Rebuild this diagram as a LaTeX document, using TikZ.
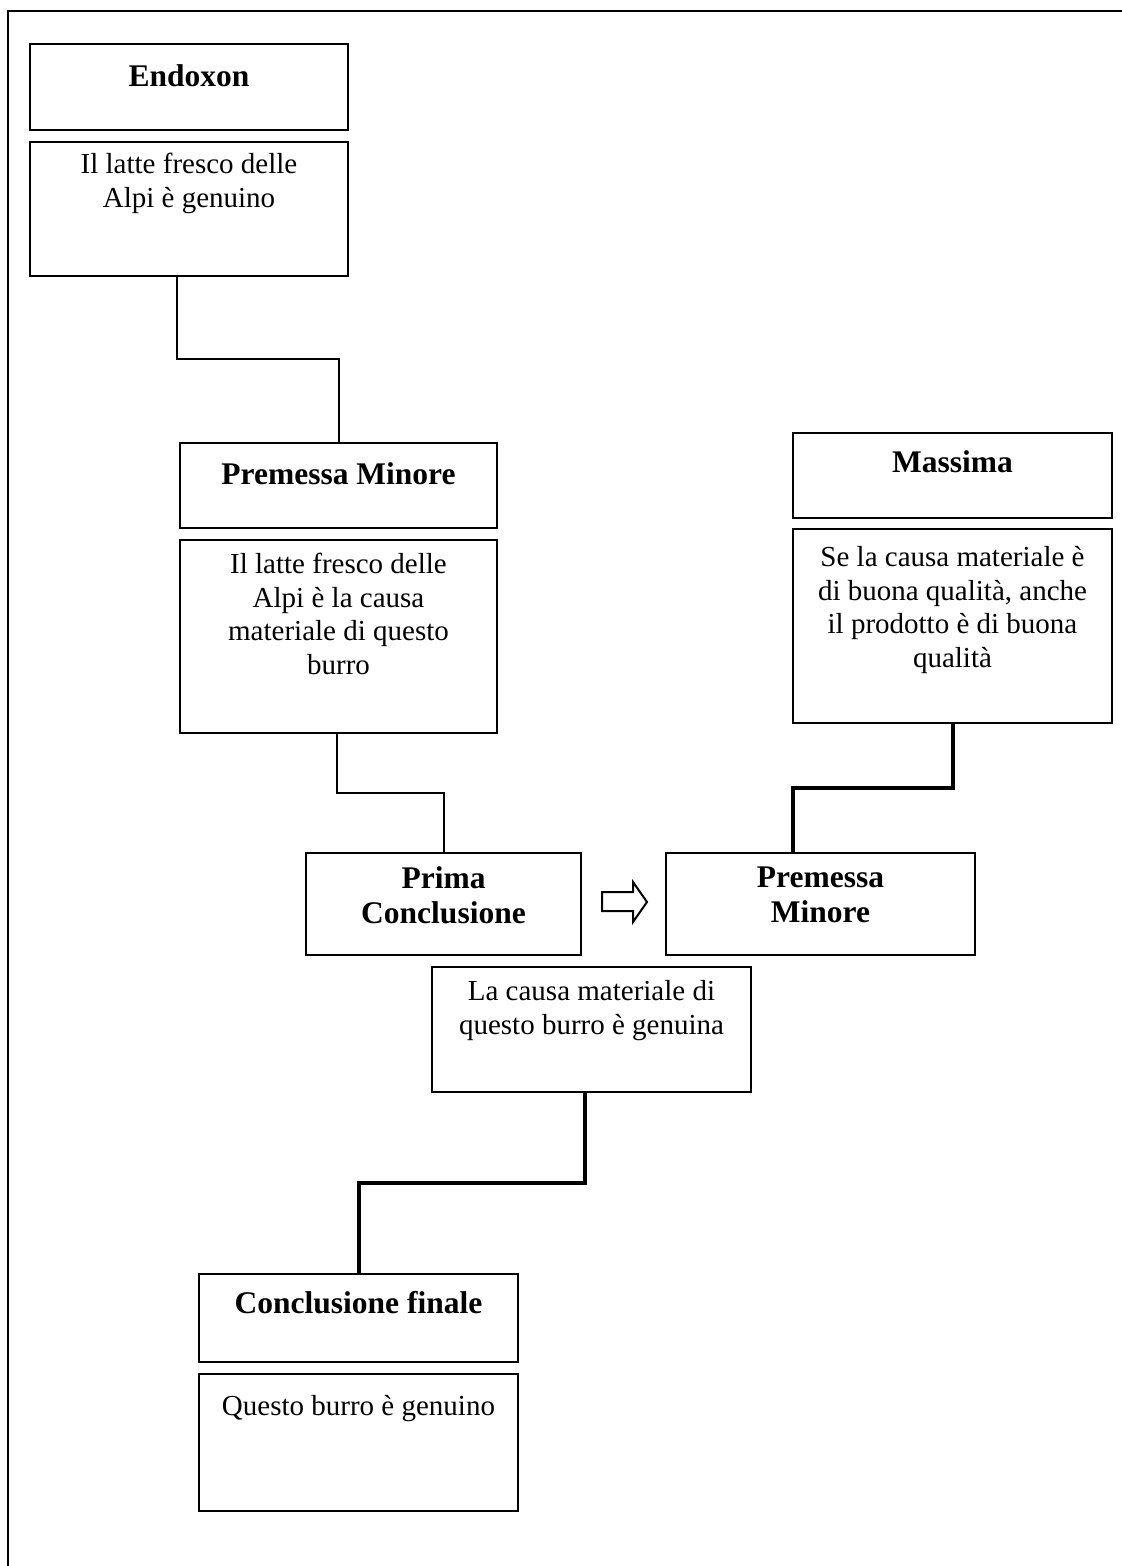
\documentclass[tikz,border=0pt]{standalone}
\usepackage{fontspec}
\setmainfont{Liberation Serif}
\usetikzlibrary{fit,calc}
\begin{document}
\begin{tikzpicture}[x=0.5pt,y=-0.5pt,
  box/.style={draw, line width=1pt, inner sep=0pt},
  % the text node's top sits 13pt above the first baseline
  txt/.style={anchor=north, align=center, inner sep=0pt,
    font=\fontsize{14.5pt}{16.75pt}\selectfont,
    execute at begin node={\rule{0pt}{13pt}}},
  head/.style={txt, font=\fontsize{15.75pt}{17.75pt}\selectfont\bfseries},
  link/.style={line width=1pt},
  boldlink/.style={line width=2pt},
  outline/.style={line width=1pt, line join=miter}]
\useasboundingbox (0,0) rectangle (1122,1566);
\newcommand\mybox[5]{\node[box, fit={(#2,#3) (#4,#5)}] (#1) {};}
% first baseline #2 px below the top of box #1
\newcommand\inbox[2]{($(#1.north)+(0,#2-26)$)}

% page frame (top and left edges)
\draw[link] (1122,11) -- (8,11) -- (8,1566);

% Endoxon
\mybox{endH}{30}{44}{348}{130}
\mybox{endB}{30}{142}{348}{276}
\node[head] (endHt) at \inbox{endH}{43} {Endoxon};
\node[txt] (endBt) at \inbox{endB}{38} {Il latte fresco delle\\Alpi è genuino};

% Premessa minore (left)
\mybox{premH}{180}{443}{497}{528}
\mybox{premB}{180}{540}{497}{733}
\node[head] (premHt) at \inbox{premH}{42} {Premessa Minore};
\node[txt] (premBt) at \inbox{premB}{40} {Il latte fresco delle\\Alpi è la causa\\materiale di questo\\burro};

% Massima
\mybox{massH}{793}{433}{1112}{518}
\mybox{massB}{793}{529}{1112}{723}
\node[head] (massHt) at \inbox{massH}{40} {Massima};
\node[txt] (massBt) at \inbox{massB}{44} {Se la causa materiale è\\di buona qualità, anche\\il prodotto è di buona\\qualità};

% Prima conclusione and second premessa minore
\mybox{prima}{306}{853}{581}{955}
\node[head] (primat) at \inbox{prima}{40} {Prima\\Conclusione};
\mybox{prem2}{666}{853}{975}{955}
\node[head] (prem2t) at \inbox{prem2}{40} {Premessa\\Minore};

% La causa materiale
\mybox{causa}{432}{967}{751}{1092}
\node[txt] (causat) at \inbox{causa}{40} {La causa materiale di\\questo burro è genuina};

% Conclusione finale
\mybox{concH}{199}{1274}{518}{1362}
\mybox{concB}{199}{1374}{518}{1511}
\node[head] (concHt) at \inbox{concH}{40} {Conclusione finale};
\node[txt] (concBt) at \inbox{concB}{42} {Questo burro è genuino};

% connectors
\coordinate (k1) at (177,359);
\draw[link] (endB.south -| k1) -- (k1) -| (premH.north);
\coordinate (k2) at (337,793);
\draw[link] (premB.south -| k2) -- (k2) -| (prima.north);
\coordinate (k3) at (793,788);
\draw[boldlink] (massB.south) |- (k3) -- (k3 |- prem2.north);
\coordinate (k4) at (585,1183);
\draw[boldlink] (causa.south -| k4) -- (k4) -| (concH.north);

% block arrow between the two middle boxes
\draw[outline] (602,892) -- (633,892) -- (633,882) -- (647,902)
  -- (633,922) -- (633,911) -- (602,911) -- cycle;
\end{tikzpicture}
\end{document}
